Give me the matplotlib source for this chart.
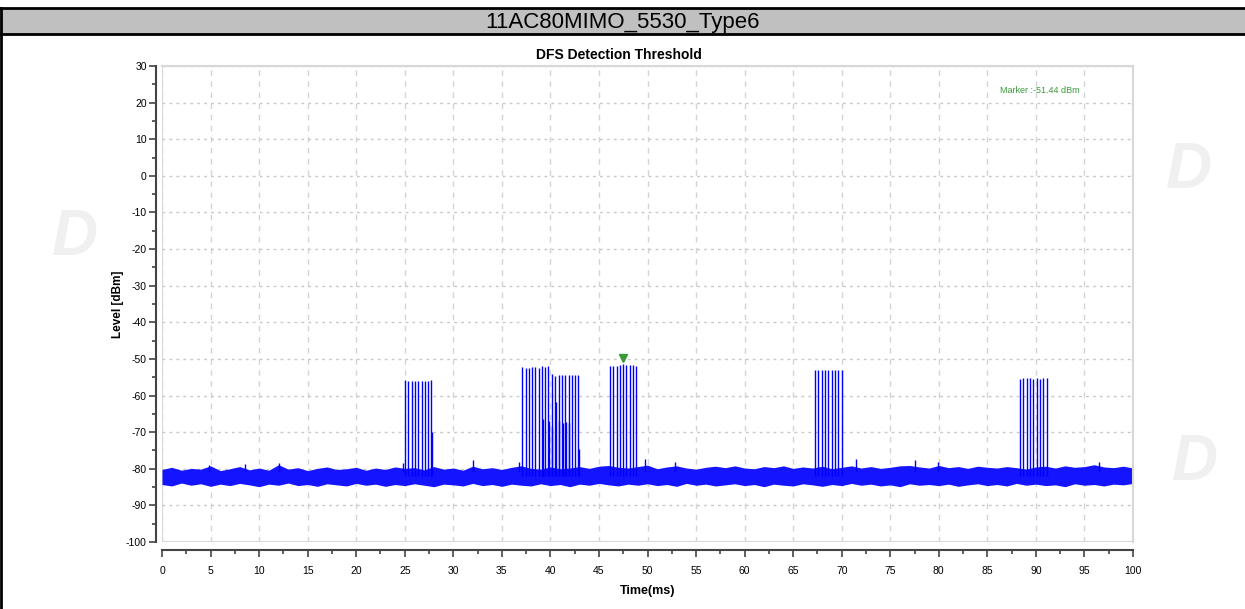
import matplotlib
matplotlib.use('Agg')
from matplotlib import pyplot as plt
from matplotlib.patches import Rectangle
from matplotlib.lines import Line2D
import matplotlib.transforms as mtransforms
import numpy as np

# pulse bursts: times (ms) and peak levels (dBm)
burst_t = [
    [25.06, 25.36, 25.71, 26.05, 26.39, 26.74, 27.08, 27.39, 27.73],
    [37.11, 37.45, 37.79, 38.14, 38.44, 38.78, 39.13, 39.47, 39.78],
    [40.13, 40.51, 40.85, 41.19, 41.53, 41.88, 42.22, 42.56, 42.87],
    [46.17, 46.47, 46.82, 47.16, 47.50, 47.81, 48.16, 48.50, 48.85],
    [67.28, 67.59, 67.94, 68.28, 68.62, 68.97, 69.31, 69.65, 70.00],
    [88.36, 88.71, 89.05, 89.39, 89.73, 90.08, 90.42, 90.76, 91.11],
]
burst_h = [
    [-55.7, -56.1, -56.1, -56.1, -55.9, -56.1, -55.9, -56.1, -55.7],
    [-52.3, -52.6, -52.6, -52.1, -52.3, -52.6, -51.9, -52.1, -51.8],
    [-54.2, -54.8, -54.5, -54.4, -54.5, -54.5, -54.5, -54.5, -54.5],
    [-52.0, -51.9, -51.9, -51.7, -51.44, -51.7, -51.7, -51.7, -52.0],
    [-53.0, -53.0, -53.0, -53.0, -53.0, -53.0, -53.0, -53.0, -53.1],
    [-55.6, -55.3, -55.3, -55.3, -55.6, -55.3, -55.5, -55.2, -55.2],
]
# weaker overlapping pulses
sub_t = [27.80, 39.20, 39.90, 40.20, 40.58, 40.92, 41.25, 41.60, 41.95, 42.92]
sub_h = [-70.0, -66.4, -67.0, -68.6, -61.8, -67.0, -67.5, -67.2, -67.5, -74.6]

# noise floor envelope, 1 ms steps 0..100
floor_t = list(range(0, 101))
floor_hi = [-80.2, -79.6, -80.4, -79.9, -80.1, -79.2, -80.5, -80.0, -79.4, -80.3,
            -79.8, -80.4, -78.9, -80.1, -79.7, -80.5, -79.9, -79.5, -80.2, -80.0,
            -79.6, -80.4, -79.8, -80.2, -79.5, -79.9, -79.7, -80.3, -79.4, -80.1,
            -79.8, -80.4, -79.3, -80.0, -79.7, -80.2, -79.6, -79.2, -79.9, -80.1,
            -79.5, -80.0, -79.8, -79.4, -79.9, -79.3, -79.1, -79.6, -79.8, -79.4,
            -79.0, -80.0, -79.5, -79.2, -79.8, -80.1, -79.6, -79.3, -79.7, -79.2,
            -79.8, -80.0, -79.4, -79.7, -79.2, -79.9, -79.5, -79.8, -79.3, -80.0,
            -79.6, -79.2, -79.8, -79.4, -79.9, -79.6, -79.2, -79.1, -79.5, -79.8,
            -79.1, -79.7, -79.4, -79.9, -79.3, -79.6, -79.8, -79.4, -79.7, -80.1,
            -79.5, -79.3, -79.8, -79.2, -79.6, -79.4, -78.9, -79.5, -79.7, -79.3,
            -79.8]
floor_lo = [-84.3, -84.7, -83.9, -84.5, -84.1, -84.8, -84.2, -84.6, -84.0, -84.4,
            -84.9, -84.2, -84.5, -83.9, -84.6, -84.3, -84.8, -84.1, -84.4, -84.7,
            -84.0, -84.5, -84.2, -84.8, -84.3, -84.6, -84.1, -84.5, -84.9, -84.2,
            -84.4, -84.7, -84.0, -84.6, -84.3, -84.8, -84.2, -84.5, -84.7, -84.1,
            -84.6, -84.3, -84.9, -84.2, -84.5, -84.0, -84.4, -84.7, -84.2, -84.5,
            -84.1, -84.6, -84.3, -84.8, -84.0, -84.5, -84.2, -84.7, -84.4, -84.1,
            -84.6, -84.3, -84.9, -84.2, -84.5, -84.7, -84.1, -84.4, -84.8, -84.3,
            -84.6, -84.0, -84.5, -84.2, -84.7, -84.4, -84.9, -84.1, -84.5, -84.3,
            -84.6, -84.2, -84.8, -84.4, -84.1, -84.6, -84.3, -84.7, -84.0, -84.5,
            -84.2, -84.6, -84.4, -84.9, -84.1, -84.5, -84.3, -84.7, -84.2, -84.4,
            -84.0]

# stray noise spikes above the floor
spike_t = [4.8, 8.5, 12.1, 24.85, 32.0, 36.8, 49.74, 52.8, 71.5, 77.5, 79.9, 96.5]
spike_h = [-79.0, -78.6, -78.4, -78.4, -77.6, -78.2, -77.3, -78.2, -77.3, -77.6, -78.1, -78.2]

marker_t, marker_v = 47.50, -51.44

plt.rcParams['font.family'] = ['Liberation Sans', 'DejaVu Sans']
plt.rcParams['axes.unicode_minus'] = False

fig = plt.figure(figsize=(12.45, 6.09), dpi=100)

# header bar
H = 609.0
fig.patches.append(Rectangle((0, 1 - 34 / H), 1, 26 / H, transform=fig.transFigure,
                             facecolor='#c0c0c0', edgecolor='none', zorder=0))
for yy in (8, 34):
    fig.add_artist(Line2D([0, 1], [1 - yy / H] * 2, transform=fig.transFigure,
                          color='black', lw=2))
fig.add_artist(Line2D([1 / 1245, 1 / 1245], [0, 1 - 8 / H], transform=fig.transFigure,
                      color='black', lw=2))
fig.text(0.5, 1 - 28 / H, '11AC80MIMO_5530_Type6', ha='center', va='baseline',
         fontsize=16, zorder=5)

# faint watermarks
for (wx, wy, s) in [(0.06, 0.61, 46), (0.955, 0.72, 46), (0.96, 0.24, 46)]:
    fig.text(wx, wy, 'D', fontsize=s, fontweight='bold', style='italic',
             color='#f0f0f0', ha='center', va='center', zorder=0)

ax = fig.add_axes([162 / 1245, 1 - 542 / H, (1133 - 162) / 1245, (542 - 66) / H])
ax.set_xlim(0, 100)
ax.set_ylim(-100, 30)

ax.fill_between(floor_t, floor_lo, floor_hi, color='#1414ff', lw=0, zorder=2)
ax.vlines(spike_t, -81, spike_h, color='#0000ff', lw=1, zorder=3)
for ts, hs in zip(burst_t, burst_h):
    ax.vlines(ts, -82, hs, color='#0000ff', lw=1, zorder=3)
ax.vlines(sub_t, -82, sub_h, color='#0000ff', lw=1, zorder=3)

mk_tr = mtransforms.offset_copy(ax.transData, fig=fig, x=0, y=6, units='dots')
ax.plot([marker_t], [marker_v], marker='v', color='#3a9a3a', markersize=6,
        transform=mk_tr, zorder=4, clip_on=False)
ax.text(86.3, 23.4, 'Marker :%.2f dBm' % marker_v, color='#3a9a3a', fontsize=6.5,
        va='center', ha='left')

ax.set_xticks(np.arange(0, 101, 5))
ax.set_xticks(np.arange(0, 101, 2.5), minor=True)
ax.set_yticks(np.arange(-100, 31, 10))
ax.set_yticks(np.arange(-100, 31, 5), minor=True)
ax.tick_params(axis='both', which='major', length=5, width=1.2, color='#444444',
               labelsize=7.5)
ax.tick_params(axis='x', which='major', pad=6)
ax.tick_params(axis='y', which='major', pad=2)
ax.tick_params(axis='both', which='minor', length=3, width=1.2, color='#444444')

ax.grid(True, axis='y', which='major', color='#c8c8c8', linestyle=(0, (2, 3)), lw=1)
ax.grid(True, axis='x', which='major', color='#d4d4d4', linestyle=(0, (4, 4)), lw=1)
ax.set_axisbelow(True)

for side in ('top', 'right'):
    ax.spines[side].set_color('#d8d8d8')
    ax.spines[side].set_linewidth(1.5)
ax.spines['left'].set_position(('outward', 4))
ax.spines['bottom'].set_position(('outward', 6))
for side in ('left', 'bottom'):
    ax.spines[side].set_color('#444444')
    ax.spines[side].set_linewidth(1.5)
ax.add_patch(Rectangle((0, 0), 1, 1, transform=ax.transAxes, fill=False,
                       edgecolor='#d8d8d8', lw=1.5, zorder=1))

ax.set_title('DFS Detection Threshold', fontsize=10, fontweight='bold',
             x=0.4707, pad=5)
ax.set_xlabel('Time(ms)', fontsize=9, fontweight='bold')
ax.xaxis.set_label_coords(0.5, -0.090)
ax.set_ylabel('Level [dBm]', fontsize=8.5, fontweight='bold')
ax.yaxis.set_label_coords(-0.039, 0.5)

fig.savefig('out.png', dpi=100)
